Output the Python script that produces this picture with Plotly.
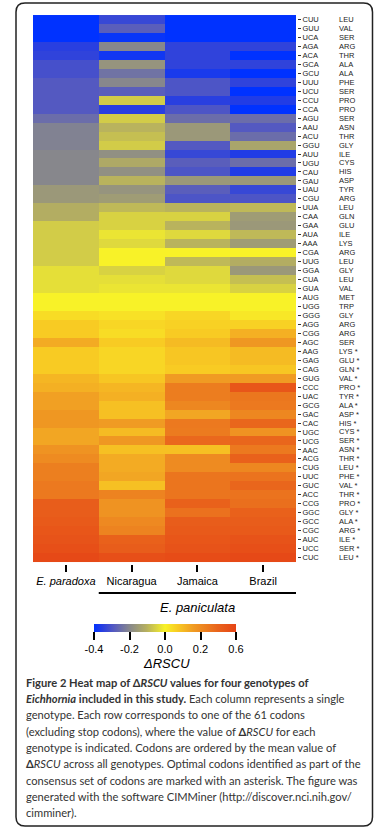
import numpy as np
import plotly.graph_objects as go

codons = ["CUU","GUU","UCA","AGA","ACA","GCA","GCU","UUU","UCU","CCU","CCA","AGU","AAU","ACU","GGU",
          "AUU","UGU","CAU","GAU","UAU","CGU","UUA","CAA","GAA","AUA","AAA","CGA","UUG","GGA","CUA",
          "GUA","AUG","UGG","GGG","AGG","CGG","AGC","AAG","GAG","CAG","GUG","CCC","UAC","GCG","GAC",
          "CAC","UGC","UCG","AAC","ACG","CUG","UUC","GUC","ACC","CCG","GGC","GCC","CGC","AUC","UCC","CUC"]
amino_acids = ["LEU","VAL","SER","ARG","THR","ALA","ALA","PHE","SER","PRO","PRO","SER","ASN","THR","GLY",
               "ILE","CYS","HIS","ASP","TYR","ARG","LEU","GLN","GLU","ILE","LYS","ARG","LEU","GLY","LEU",
               "VAL","MET","TRP","GLY","ARG","ARG","SER","LYS *","GLU *","GLN *","VAL *","PRO *","TYR *","ALA *","ASP *",
               "HIS *","CYS *","SER *","ASN *","THR *","LEU *","PHE *","VAL *","THR *","PRO *","GLY *","ALA *","ARG *","ILE *","SER *","LEU *"]
genotypes = ["E. paradoxa", "Nicaragua", "Jamaica", "Brazil"]

e_paradoxa = [-0.40,-0.40,-0.40,-0.35,-0.34,-0.31,-0.31,-0.29,-0.29,-0.29,-0.29,-0.25,-0.21,-0.21,-0.21,
              -0.20,-0.20,-0.20,-0.20,-0.16,-0.16,-0.11,-0.11,-0.06,-0.06,-0.06,-0.06,-0.06,-0.03,-0.03,
              -0.03,0.00,0.00,0.04,0.07,0.07,0.13,0.07,0.07,0.07,0.11,0.12,0.15,0.15,0.17,
              0.17,0.14,0.14,0.18,0.20,0.26,0.26,0.29,0.29,0.44,0.44,0.46,0.48,0.50,0.53,0.57]
nicaragua = [-0.33,-0.28,-0.39,-0.20,-0.38,-0.17,-0.24,-0.20,-0.28,-0.06,-0.35,-0.06,-0.10,-0.08,-0.06,
             -0.18,-0.12,-0.18,-0.10,-0.17,-0.15,-0.09,-0.05,-0.05,-0.02,-0.04,0.00,0.00,-0.05,-0.03,
             -0.02,0.00,0.00,0.03,0.05,0.04,0.07,0.05,0.05,0.05,0.08,0.11,0.12,0.09,0.09,
             0.16,0.10,0.17,0.09,0.13,0.13,0.14,0.09,0.24,0.18,0.18,0.21,0.24,0.41,0.44,0.53]
jamaica = [-0.40,-0.40,-0.40,-0.34,-0.34,-0.34,-0.37,-0.30,-0.30,-0.35,-0.30,-0.25,-0.16,-0.16,-0.29,
           -0.33,-0.28,-0.30,-0.16,-0.28,-0.30,-0.10,-0.05,-0.10,-0.04,-0.10,0.00,-0.09,-0.04,-0.04,
           -0.02,0.00,0.00,0.05,0.06,0.07,0.10,0.08,0.08,0.07,0.16,0.27,0.27,0.22,0.14,
           0.29,0.28,0.37,0.09,0.20,0.20,0.31,0.31,0.31,0.41,0.33,0.44,0.46,0.48,0.50,0.55]
brazil = [-0.40,-0.40,-0.40,-0.34,-0.40,-0.34,-0.40,-0.34,-0.40,-0.36,-0.40,-0.25,-0.29,-0.25,-0.13,
          -0.36,-0.25,-0.36,-0.16,-0.33,-0.30,-0.09,-0.15,-0.16,-0.09,-0.15,0.00,-0.11,-0.16,-0.08,
          -0.05,0.00,0.00,0.02,0.06,0.12,0.17,0.10,0.10,0.08,0.16,0.48,0.30,0.29,0.22,
          0.38,0.18,0.38,0.29,0.41,0.22,0.32,0.38,0.32,0.34,0.41,0.44,0.46,0.50,0.53,0.57]

cbar_vals = [-0.4, -0.2, 0.0, 0.2, 0.6]
cbar_text = ["-0.4", "-0.2", "0.0", "0.2", "0.6"]

caption_lines = [
    "<b>Figure 2 Heat map of Δ<i>RSCU</i> values for four genotypes of</b>",
    "<b><i>Eichhornia</i> included in this study.</b> Each column represents a single",
    "genotype. Each row corresponds to one of the 61 codons",
    "(excluding stop codons), where the value of <b>Δ</b><i>RSCU</i> for each",
    "genotype is indicated. Codons are ordered by the mean value of",
    "<b>Δ</b><i>RSCU</i> across all genotypes. Optimal codons identified as part of the",
    "consensus set of codons are marked with an asterisk. The figure was",
    "generated with the software CIMMiner (http://discover.nci.nih.gov/",
    "cimminer).",
]

# CIMMiner colour bar: ticks evenly spaced, non-linear value scale
pos = np.linspace(0, 1, len(cbar_vals))
def to_pos(v):
    return np.interp(v, cbar_vals, pos)

values = np.array([e_paradoxa, nicaragua, jamaica, brazil]).T
z = to_pos(values)

colorscale = [
    [0.0, "rgb(0,50,255)"],
    [0.06, "rgb(40,62,225)"],
    [0.14, "rgb(85,90,192)"],
    [0.25, "rgb(135,135,140)"],
    [0.37, "rgb(182,176,95)"],
    [0.5, "rgb(248,242,40)"],
    [0.59, "rgb(248,202,35)"],
    [0.70, "rgb(240,155,35)"],
    [0.87, "rgb(233,100,28)"],
    [1.0, "rgb(230,68,22)"],
]

W, H = 383, 827
ML, MR, MT, MB = 33, 86, 13, 263
PW, PH = W - ML - MR, H - MT - MB
def px(xp):
    return (xp - ML) / PW
def py(yp):
    return (H - MB - yp) / PH

FONT = "Liberation Sans, Arial, sans-serif"

fig = go.Figure(go.Heatmap(
    z=z, x=genotypes, y=codons, customdata=values,
    colorscale=colorscale, zmin=0, zmax=1,
    colorbar=dict(
        orientation="h", x=px(165), xanchor="center", y=py(624), yanchor="top",
        len=142, lenmode="pixels", thickness=8, thicknessmode="pixels",
        xpad=0, ypad=0, outlinewidth=0,
        tickvals=list(pos), ticktext=cbar_text,
        ticks="outside", ticklen=8, tickwidth=2, tickcolor="black",
        tickfont=dict(family=FONT, size=11, color="black"),
    ),
))

fig.update_xaxes(
    tickvals=genotypes,
    ticktext=["<i>E. paradoxa</i>", "Nicaragua", "Jamaica", "Brazil"],
    ticks="outside", ticklen=7, tickwidth=2, tickcolor="black",
    tickfont=dict(family=FONT, size=11, color="black"),
    showgrid=False, zeroline=False, showline=False,
)
fig.update_yaxes(
    autorange="reversed", side="right",
    tickvals=codons, ticktext=codons,
    ticks="outside", ticklen=3, tickwidth=1, tickcolor="#333",
    tickfont=dict(family=FONT, size=7.5, color="#222"),
    showgrid=False, zeroline=False, showline=False,
)

annotations = []
for cod, aa in zip(codons, amino_acids):
    annotations.append(dict(x=px(337), xref="paper", y=cod, yref="y", text=aa,
                            xanchor="left", yanchor="middle", showarrow=False,
                            font=dict(family=FONT, size=7.5, color="#222")))
annotations.append(dict(x=px(197), xref="paper", y=py(607), yref="paper",
                        text="<i>E. paniculata</i>", showarrow=False,
                        xanchor="center", yanchor="middle",
                        font=dict(family=FONT, size=13, color="black")))
annotations.append(dict(x=px(166), xref="paper", y=py(663), yref="paper",
                        text="<i>ΔRSCU</i>", showarrow=False,
                        xanchor="center", yanchor="middle",
                        font=dict(family=FONT, size=13, color="black")))
cap_y0, cap_dy = 682, 16.35
for i, line in enumerate(caption_lines):
    annotations.append(dict(x=px(24), xref="paper", y=py(cap_y0 + i * cap_dy), yref="paper",
                            text=line, showarrow=False, xanchor="left", yanchor="middle",
                            font=dict(family="Lato, sans-serif", size=11.15, color="#333")))

# rounded frame
x0, x1, y0, y1, r = 16, 372.5, 3, 826, 9
def P(xp, yp):
    return f"{px(xp):.5f},{py(yp):.5f}"
frame = (f"M {P(x0 + r, y0)} L {P(x1 - r, y0)} Q {P(x1, y0)} {P(x1, y0 + r)} "
         f"L {P(x1, y1 - r)} Q {P(x1, y1)} {P(x1 - r, y1)} "
         f"L {P(x0 + r, y1)} Q {P(x0, y1)} {P(x0, y1 - r)} "
         f"L {P(x0, y0 + r)} Q {P(x0, y0)} {P(x0 + r, y0)} Z")

shapes = [
    dict(type="path", xref="paper", yref="paper", path=frame,
         line=dict(color="#222", width=1.5)),
    dict(type="line", xref="x", yref="paper", x0=0.5, x1=3.5, y0=py(593), y1=py(593),
         line=dict(color="black", width=2)),
]

fig.update_layout(
    width=W, height=H, margin=dict(l=ML, r=MR, t=MT, b=MB, pad=0),
    paper_bgcolor="white", plot_bgcolor="white",
    annotations=annotations, shapes=shapes, showlegend=False,
)

fig.write_html("out.html", config={"displayModeBar": False},
               post_script="document.body.style.margin='0';")
